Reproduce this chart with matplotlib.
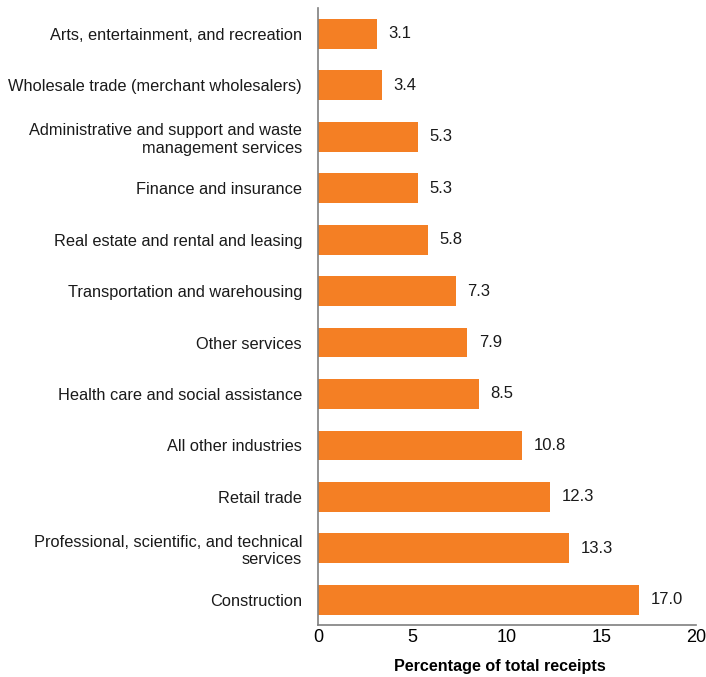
import matplotlib.pyplot as plt

plt.rcParams["font.family"] = ["Liberation Sans", "DejaVu Sans"]
plt.rcParams["font.size"] = 11.8

industries = [
    "Construction",
    "Professional, scientific, and technical\nservices",
    "Retail trade",
    "All other industries",
    "Health care and social assistance",
    "Other services",
    "Transportation and warehousing",
    "Real estate and rental and leasing",
    "Finance and insurance",
    "Administrative and support and waste\nmanagement services",
    "Wholesale trade (merchant wholesalers)",
    "Arts, entertainment, and recreation",
]
shares = [17.0, 13.3, 12.3, 10.8, 8.5, 7.9, 7.3, 5.8, 5.3, 5.3, 3.4, 3.1]
xticks = [0, 5, 10, 15, 20]

fig = plt.figure(figsize=(7.06, 6.77), dpi=100)
ax = fig.add_axes([0.4504, 0.0768, 0.5354, 0.9112])

pos = range(len(industries))
ax.barh(pos, shares, height=0.58, color="#F47F24")
for y, v in zip(pos, shares):
    ax.text(v + 0.6, y, f"{v:.1f}", va="center", ha="left", fontsize=12, color="#1a1a1a")

ax.set_yticks(list(pos))
ax.set_yticklabels(industries, multialignment="right", color="#1a1a1a")
ax.set_ylim(-0.49, 11.5)
ax.set_xlim(0, 20)
ax.set_xticks(xticks)
ax.set_xticklabels([str(t) for t in xticks], fontsize=13)
ax.tick_params(axis="both", length=0)
ax.tick_params(axis="y", pad=11.5)
ax.tick_params(axis="x", pad=3)
ax.set_xlabel("Percentage of total receipts", fontweight="bold", fontsize=11.6,
              labelpad=9, x=0.48)

for s in ["top", "right"]:
    ax.spines[s].set_visible(False)
ax.spines["left"].set_color("#7f7f7f")
ax.spines["bottom"].set_color("#7f7f7f")
ax.spines["left"].set_linewidth(1.2)
ax.spines["bottom"].set_linewidth(1.2)

fig.savefig("out.png", dpi=100)
